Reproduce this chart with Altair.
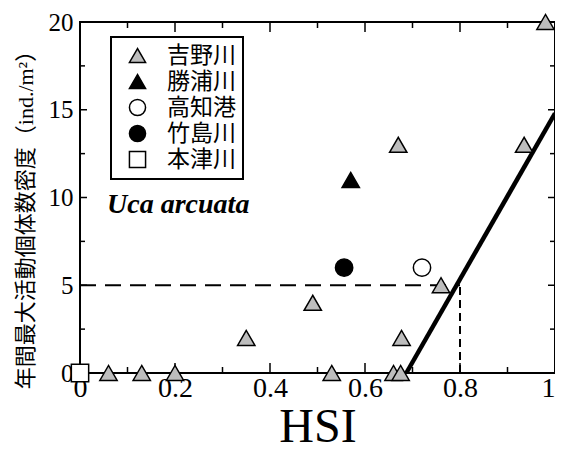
import altair as alt
import pandas as pd

# ---- data ----
sites = ["吉野川", "勝浦川", "高知港", "竹島川", "本津川"]
site_shapes = ["triangle-up", "triangle-up", "circle", "circle", "square"]
site_fills = ["#bdbdbd", "black", "white", "black", "white"]

yoshino_x = [0.06, 0.13, 0.20, 0.35, 0.49, 0.53, 0.66, 0.675, 0.677, 0.76, 0.67, 0.935, 0.98]
yoshino_y = [0, 0, 0, 2, 4, 0, 0, 0, 2, 5, 13, 13, 20]
katsuura_x = [0.57]
katsuura_y = [11]
kochi_x = [0.72]
kochi_y = [6]
takeshima_x = [0.556]
takeshima_y = [6]
motozu_x = [0.0]
motozu_y = [0]

fit_x = [0.687, 1.0]
fit_y = [0, 14.8]

guide_h_x = [0.0, 0.8]
guide_h_y = [5, 5]
guide_v_x = [0.8, 0.8]
guide_v_y = [0, 5]

x_major = [0, 0.2, 0.4, 0.6, 0.8, 1.0]
x_minor = [0.1, 0.3, 0.5, 0.7, 0.9]
y_major = [0, 5, 10, 15, 20]
y_minor = [2.5, 7.5, 12.5, 17.5]

species = "Uca arcuata"
species_x = 0.057
species_y = 9.1

W, H = 475, 351

# ---- tables ----
rows = []
for s, xs_, ys_ in zip(sites,
                       [yoshino_x, katsuura_x, kochi_x, takeshima_x, motozu_x],
                       [yoshino_y, katsuura_y, kochi_y, takeshima_y, motozu_y]):
    for xv, yv in zip(xs_, ys_):
        rows.append({"site": s, "HSI": xv, "density": yv})
pts = pd.DataFrame(rows)

xs = alt.Scale(domain=[0, 1], nice=False, zero=False)
ys = alt.Scale(domain=[0, 20], nice=False, zero=False)

x_axis = alt.Axis(values=x_major, format="~g", grid=False, ticks=False,
                  tickSize=0, domain=False, labelFont="Liberation Serif",
                  labelFontSize=28, labelColor="black", labelPadding=1,
                  labelAlign=alt.condition("datum.value == 1",
                                           alt.value("right"),
                                           alt.value("center")),
                  labelFlush=False, labelOverlap=False,
                  titleFont="Liberation Serif", titleFontSize=48,
                  titleFontWeight="normal", titleColor="black",
                  titleY=68, titleBaseline="alphabetic")
y_axis = alt.Axis(values=y_major, format="d", grid=False, ticks=False,
                  tickSize=0, domain=False, labelFont="Liberation Serif",
                  labelFontSize=25, labelColor="black", labelPadding=7,
                  labelFlush=False, labelOverlap=False,
                  titleFont="Liberation Serif, 'Noto Sans CJK JP'",
                  titleFontSize=22, titleFontWeight="normal",
                  titleColor="black", titleAngle=270, titleX=-55,
                  titleY=192, titleAlign="center", titleBaseline="middle")
X_TITLE = "HSI"
Y_TITLE = "年間最大活動個体数密度（ind./m²）"


def X(field="HSI"):
    return alt.X(f"{field}:Q", scale=xs, title=X_TITLE, axis=x_axis)


def Y(field="density"):
    return alt.Y(f"{field}:Q", scale=ys, title=Y_TITLE, axis=y_axis)


points = alt.Chart(pts).mark_point(filled=False, size=300, stroke="black",
                                   strokeWidth=1.5, opacity=1).encode(
    x=X(), y=Y(),
    shape=alt.Shape("site:N", scale=alt.Scale(domain=sites, range=site_shapes),
                    title=None),
    fill=alt.Fill("site:N", scale=alt.Scale(domain=sites, range=site_fills),
                  title=None,
                  legend=alt.Legend(orient="none", legendX=31, legendY=15,
                                    padding=7, strokeColor="black",
                                    fillColor="white",
                                    labelFont="Noto Sans CJK JP",
                                    labelFontSize=23, labelColor="black",
                                    labelOffset=18, rowPadding=2,
                                    symbolOffset=8,
                                    labelExpr="datum.label + '\u2002\u2005'",
                                    symbolSize=260, symbolStrokeColor="black",
                                    symbolStrokeWidth=1.5, symbolOpacity=1)),
)

fit = alt.Chart(pd.DataFrame({"HSI": fit_x, "density": fit_y})).mark_line(
    color="black", strokeWidth=4.5).encode(x=X(), y=Y())

hguide = alt.Chart(pd.DataFrame({"HSI": [guide_h_x[0]], "HSI2": [guide_h_x[1]],
                                 "density": [guide_h_y[0]]})).mark_rule(
    color="black", strokeWidth=2, strokeDash=[16, 9]).encode(
    x=X(), x2="HSI2:Q", y=Y())

vguide = alt.Chart(pd.DataFrame({"HSI": [guide_v_x[0]], "density": [guide_v_y[0]],
                                 "density2": [guide_v_y[1]]})).mark_rule(
    color="black", strokeWidth=2, strokeDash=[8, 5]).encode(
    x=X(), y=Y(), y2="density2:Q")


def xticks(vals, length):
    df = pd.DataFrame({"HSI": vals})
    bottom = alt.Chart(df).mark_rule(color="black", strokeWidth=1.5).encode(
        x=X(), y=alt.value(H), y2=alt.value(H - length))
    top = alt.Chart(df).mark_rule(color="black", strokeWidth=1.5).encode(
        x=X(), y=alt.value(0), y2=alt.value(length))
    return [bottom, top]


def yticks(vals, length):
    df = pd.DataFrame({"density": vals})
    left = alt.Chart(df).mark_rule(color="black", strokeWidth=1.5).encode(
        y=Y(), x=alt.value(0), x2=alt.value(length))
    right = alt.Chart(df).mark_rule(color="black", strokeWidth=1.5).encode(
        y=Y(), x=alt.value(W), x2=alt.value(W - length))
    return [left, right]


label = alt.Chart(pd.DataFrame({"HSI": [species_x], "density": [species_y],
                                "t": [species]})).mark_text(
    font="Liberation Serif", fontSize=28, fontWeight="bold", fontStyle="italic",
    align="left", baseline="alphabetic", color="black").encode(
    x=X(), y=Y(), text="t:N")

layers = (xticks(x_major, 10) + xticks(x_minor, 6)
          + yticks(y_major, 7) + yticks(y_minor, 5)
          + [hguide, vguide, fit, label, points])

chart = alt.layer(*layers).properties(
    width=W, height=H,
    autosize=alt.AutoSizeParams(type="none"),
    padding={"left": 72, "top": 14, "right": 0, "bottom": 78},
    background="white",
).configure_view(stroke="black", strokeWidth=2).configure_legend(
    strokeWidth=2, cornerRadius=0)

chart.save("out.html", embed_options={"renderer": "svg", "actions": False})
